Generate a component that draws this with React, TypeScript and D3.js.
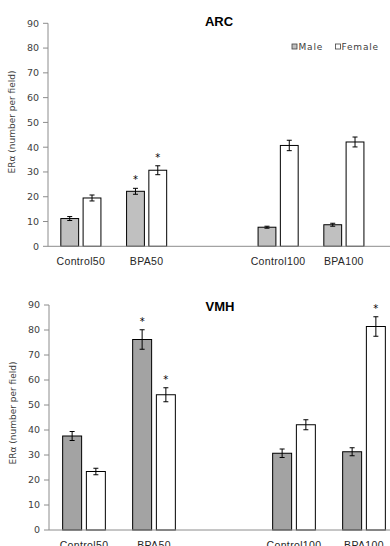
import * as d3 from 'd3';

const categories = ['Control50', 'BPA50', '', 'Control100', 'BPA100', ' '];
const groups = ['Control50', 'BPA50', 'Control100', 'BPA100'];
const sexes = ['Male', 'Female'];
const yTicks = [0, 10, 20, 30, 40, 50, 60, 70, 80, 90];

// ARC
const arcMale = [11.2, 22.2, 7.7, 8.7];
const arcMaleErr = [0.8, 1.2, 0.4, 0.6];
const arcFemale = [19.5, 30.7, 40.7, 42.1];
const arcFemaleErr = [1.2, 1.8, 2.1, 2.0];
const arcMaleStar = [false, true, false, false];
const arcFemaleStar = [false, true, false, false];

// VMH
const vmhMale = [37.6, 76.2, 30.7, 31.3];
const vmhMaleErr = [1.8, 3.9, 1.7, 1.6];
const vmhFemale = [23.4, 54.1, 42.1, 81.4];
const vmhFemaleErr = [1.3, 2.8, 2.0, 3.9];
const vmhMaleStar = [false, true, false, false];
const vmhFemaleStar = [false, true, false, true];

type PanelProps = {
  title: string;
  left: number;
  step: number;
  top: number;
  bottom: number;
  titleX: number;
  titleY: number;
  labelY: number;
  maleFill: string;
  male: number[];
  maleErr: number[];
  female: number[];
  femaleErr: number[];
  maleStar: boolean[];
  femaleStar: boolean[];
  legend?: boolean;
};

function Panel(p: PanelProps) {
  const x0 = d3
    .scaleBand<string>()
    .domain(categories)
    .range([p.left, p.left + p.step * categories.length])
    .paddingInner(0.39)
    .paddingOuter(0.195);
  const x1 = d3.scaleBand<string>().domain(sexes).range([0, x0.bandwidth()]).paddingInner(0.2);
  const y = d3.scaleLinear().domain([0, 90]).range([p.bottom, p.top]);

  const series = [
    { sex: 'Male', vals: p.male, errs: p.maleErr, stars: p.maleStar, fill: p.maleFill },
    { sex: 'Female', vals: p.female, errs: p.femaleErr, stars: p.femaleStar, fill: '#ffffff' },
  ];

  return (
    <g fontFamily="'DejaVu Sans', Verdana, sans-serif">
      <text x={p.titleX} y={p.titleY} textAnchor="middle" fontFamily="'Liberation Sans', Arial, sans-serif" fontWeight="bold" fontSize={13} fill="#000">
        {p.title}
      </text>
      <text
        transform={`translate(${p.left - 33},${p.labelY}) rotate(-90)`}
        textAnchor="middle"
        fontSize={9}
        fill="#404040"
      >
        ERα (number per field)
      </text>
      <line x1={p.left} x2={p.left} y1={p.top} y2={p.bottom} stroke="#8c8c8c" strokeWidth={1} />
      {yTicks.map((t) => (
        <g key={t}>
          <line x1={p.left - 5} x2={p.left} y1={y(t)} y2={y(t)} stroke="#8c8c8c" strokeWidth={1} />
          <text x={p.left - 9} y={y(t)} dy="0.35em" textAnchor="end" fontSize={9.5} fill="#404040">
            {t}
          </text>
        </g>
      ))}
      {series.map((s) =>
        groups.map((g, i) => {
          const bx = (x0(g) ?? 0) + (x1(s.sex) ?? 0);
          const bw = x1.bandwidth();
          const cx = bx + bw / 2;
          const yTop = y(s.vals[i] + s.errs[i]);
          const yBot = y(s.vals[i] - s.errs[i]);
          return (
            <g key={s.sex + g}>
              <rect x={bx} y={y(s.vals[i])} width={bw} height={p.bottom - y(s.vals[i])} fill={s.fill} stroke="#000" strokeWidth={1} />
              <line x1={cx} x2={cx} y1={yTop} y2={yBot} stroke="#000" strokeWidth={1} />
              <line x1={cx - 2.5} x2={cx + 2.5} y1={yTop} y2={yTop} stroke="#000" strokeWidth={1} />
              <line x1={cx - 2.5} x2={cx + 2.5} y1={yBot} y2={yBot} stroke="#000" strokeWidth={1} />
              {s.stars[i] && (
                <text x={cx} y={yTop - 5} textAnchor="middle" fontSize={10} fill="#000">
                  *
                </text>
              )}
            </g>
          );
        })
      )}
      <line x1={p.left} x2={390} y1={p.bottom} y2={p.bottom} stroke="#8c8c8c" strokeWidth={1} />
      {groups.map((g) => (
        <text
          key={g}
          x={(x0(g) ?? 0) + x0.bandwidth() / 2}
          y={p.bottom + 18.5}
          textAnchor="middle"
          fontFamily="'Liberation Sans', Arial, sans-serif"
          fontSize={10.5}
          letterSpacing={0.35}
          fill="#262626"
        >
          {g}
        </text>
      ))}
      {p.legend && (
        <g fontSize={9} letterSpacing={0.8} fill="#404040">
          <rect x={292} y={44} width={5} height={5} fill={p.maleFill} stroke="#404040" strokeWidth={0.8} />
          <text x={298.5} y={50}>Male</text>
          <rect x={335.5} y={44} width={5} height={5} fill="#fff" stroke="#404040" strokeWidth={0.8} />
          <text x={341.5} y={50}>Female</text>
        </g>
      )}
    </g>
  );
}

export default function App() {
  return (
    <div style={{ position: 'absolute', left: 0, top: 0 }}>
      <svg width={390} height={546} style={{ display: 'block', background: '#fff' }}>
        <Panel
          title="ARC"
          left={48}
          step={65.75}
          top={23.3}
          bottom={246.3}
          titleX={219}
          titleY={25.5}
          labelY={122}
          maleFill="#c0c0c0"
          male={arcMale}
          maleErr={arcMaleErr}
          female={arcFemale}
          femaleErr={arcFemaleErr}
          maleStar={arcMaleStar}
          femaleStar={arcFemaleStar}
          legend
        />
        <Panel
          title="VMH"
          left={49}
          step={70}
          top={305}
          bottom={530}
          titleX={220}
          titleY={311}
          labelY={413}
          maleFill="#a3a3a3"
          male={vmhMale}
          maleErr={vmhMaleErr}
          female={vmhFemale}
          femaleErr={vmhFemaleErr}
          maleStar={vmhMaleStar}
          femaleStar={vmhFemaleStar}
        />
      </svg>
    </div>
  );
}
